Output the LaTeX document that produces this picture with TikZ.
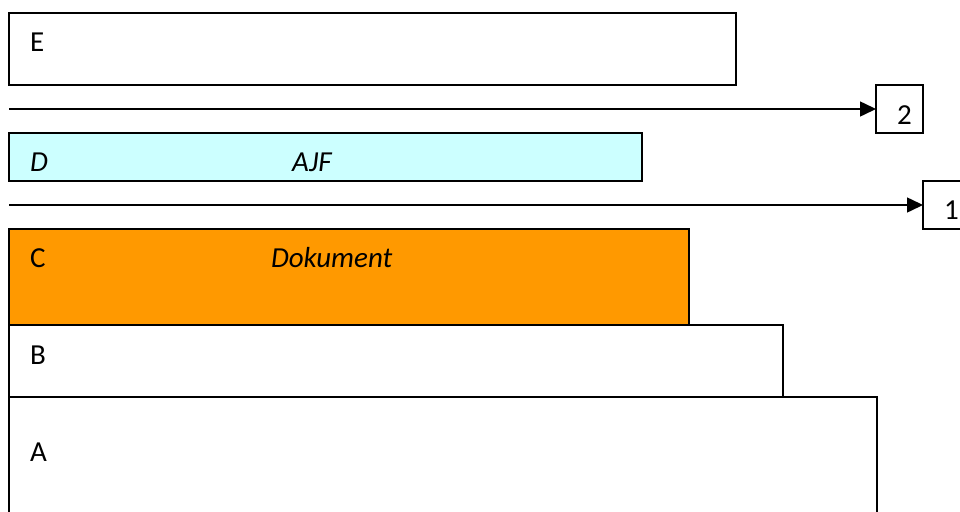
\documentclass[tikz,border=0pt]{standalone}
\usepackage{fontspec}
\setmainfont{Carlito}
\usetikzlibrary{arrows.meta}
\definecolor{lightaqua}{HTML}{CCFFFF}
\definecolor{amber}{HTML}{FF9900}
\begin{document}
\begin{tikzpicture}[x=1pt,y=-1pt,
  bar/.style={draw, line width=1.5pt, inner sep=0pt, outer sep=0pt, anchor=north west},
  numbox/.style={draw, line width=1.5pt, inner sep=0pt, outer sep=0pt, anchor=north west,
    minimum width=47pt, minimum height=48pt},
  lbl/.style={font=\fontsize{29}{34}\selectfont, anchor=base west, inner sep=0pt, outer sep=0pt},
  pointer/.style={line width=1.5pt, -{Triangle[length=16pt, width=15pt]}}]
\useasboundingbox (0,0) rectangle (960,511);
\clip (0,0) rectangle (960,511);

% layered bars, top to bottom
\node[bar, minimum width=727pt, minimum height=72pt] (E) at (9,13) {};
\node[bar, fill=lightaqua, minimum width=633pt, minimum height=48pt] (D) at (9,133) {};
\node[bar, fill=amber, minimum width=680pt, minimum height=96pt] (C) at (9,229) {};
\node[bar, minimum width=774pt, minimum height=72pt] (B) at (9,325) {};
\node[bar, minimum width=868pt, minimum height=140pt] (A) at (9,397) {};

% bar labels
\node[lbl] (tE) at (30,52) {E};
\node[lbl] (tD) at (30,171) {\itshape D};
\node[lbl] (tAJF) at (292,171) {\itshape AJF};
\node[lbl] (tC) at (30,267) {C};
\node[lbl] (tDok) at (271,267) {\itshape Dokument};
\node[lbl] (tB) at (30,364) {B};
\node[lbl] (tA) at (30,461) {A};

% numbered markers
\node[numbox] (n2) at (876,85) {};
\node[numbox] (n1) at (923,181) {};
\node[lbl] (t2) at (897,124) {2};
\node[lbl] (t1) at (944,219) {1};

% pointer lines
\coordinate (s2) at (9,109);
\coordinate (s1) at (9,205);
\draw[pointer] (s2) -- (s2 -| n2.west);
\draw[pointer] (s1) -- (s1 -| n1.west);
\end{tikzpicture}
\end{document}
